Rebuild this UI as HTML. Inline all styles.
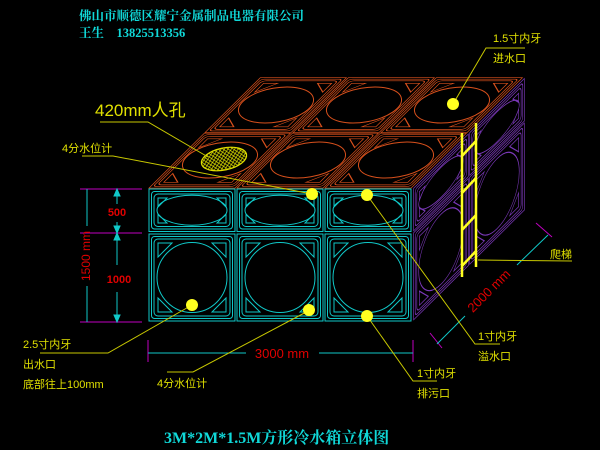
<!DOCTYPE html>
<html><head><meta charset="utf-8"><style>
html,body{margin:0;padding:0;background:#000;}
svg{display:block;}
.t{font-family:"Liberation Serif","Noto Serif CJK SC",serif;}
.s{font-family:"Liberation Sans","Noto Sans CJK SC",sans-serif;}
</style></head><body>
<svg width="600" height="450" viewBox="0 0 600 450" xmlns="http://www.w3.org/2000/svg">
<rect width="600" height="450" fill="#000"/>
<defs>
<g id="pbn" fill="none">
<rect x="1" y="1" width="86" height="87"/>
<rect x="3.5" y="3.5" width="81" height="82" rx="3"/>
<rect x="6" y="6" width="76" height="77" rx="4"/>
<polygon points="10,10 24,10 10,24"/>
<polygon points="78,10 64,10 78,24"/>
<polygon points="10,79 24,79 10,65"/>
<polygon points="78,79 64,79 78,65"/>
</g>
<g id="pb" fill="none">
<use href="#pbn"/>
<circle cx="44" cy="44.5" r="35"/>
</g>
<g id="pt" fill="none">
<rect x="1" y="1" width="86" height="42.5"/>
<rect x="3.5" y="3.5" width="81" height="37.5" rx="3"/>
<rect x="6" y="6" width="76" height="32.5" rx="4"/>
<ellipse cx="44" cy="22.2" rx="35" ry="15"/>
<polygon points="10,10 19,10 10,19"/>
<polygon points="78,10 69,10 78,19"/>
<polygon points="10,35 19,35 10,26"/>
<polygon points="78,35 69,35 78,26"/>
</g>
<pattern id="hat" width="4" height="4" patternUnits="userSpaceOnUse">
<path d="M0,0 L4,4 M4,0 L0,4" stroke="#e0e000" stroke-width="0.7"/>
</pattern>
</defs>

<!-- top face -->
<g stroke="#d8501c" stroke-width="1" fill="none">
<use href="#pbn" transform="matrix(1,0,-0.636,0.631,260,77)"/>
<use href="#pbn" transform="matrix(1,0,-0.636,0.631,348,77)"/>
<use href="#pbn" transform="matrix(1,0,-0.636,0.631,436,77)"/>
<use href="#pbn" transform="matrix(1,0,-0.636,0.631,204,132.5)"/>
<use href="#pbn" transform="matrix(1,0,-0.636,0.631,292,132.5)"/>
<use href="#pbn" transform="matrix(1,0,-0.636,0.631,380,132.5)"/>
<ellipse cx="276" cy="105" rx="38" ry="17" transform="rotate(-10 276 105)"/>
<ellipse cx="364" cy="105" rx="38" ry="17" transform="rotate(-10 364 105)"/>
<ellipse cx="452" cy="105" rx="38" ry="17" transform="rotate(-10 452 105)"/>
<ellipse cx="220" cy="160" rx="38" ry="17" transform="rotate(-10 220 160)"/>
<ellipse cx="308" cy="160" rx="38" ry="17" transform="rotate(-10 308 160)"/>
<ellipse cx="396" cy="160" rx="38" ry="17" transform="rotate(-10 396 160)"/>
</g>
<!-- right face -->
<g stroke="#7a38b8" stroke-width="1">
<use href="#pt" transform="matrix(0.636,-0.631,0,1,413,188)"/>
<use href="#pt" transform="matrix(0.636,-0.631,0,1,469,132.5)"/>
<use href="#pb" transform="matrix(0.636,-0.631,0,1,413,232.5)"/>
<use href="#pb" transform="matrix(0.636,-0.631,0,1,469,177)"/>
</g>
<!-- front face -->
<g stroke="#10c8c8" stroke-width="1">
<use href="#pt" transform="translate(148,188)"/>
<use href="#pt" transform="translate(236,188)"/>
<use href="#pt" transform="translate(324,188)"/>
<use href="#pb" transform="translate(148,233)"/>
<use href="#pb" transform="translate(236,233)"/>
<use href="#pb" transform="translate(324,233)"/>
</g>

<!-- manhole -->
<ellipse cx="224" cy="159" rx="23" ry="11" transform="rotate(-12 224 159)" fill="url(#hat)" stroke="#e0e000" stroke-width="1.2"/>

<!-- ladder -->
<g stroke="#ffff20" stroke-width="2.5" fill="none">
<line x1="462" y1="133" x2="462" y2="277"/>
<line x1="476" y1="123" x2="476" y2="267"/>
<line x1="462" y1="156" x2="476" y2="141"/>
<line x1="462" y1="193" x2="476" y2="178"/>
<line x1="462" y1="230" x2="476" y2="215"/>
<line x1="462" y1="266" x2="476" y2="251"/>
</g>

<!-- dimensions -->
<g stroke="#c000c0" stroke-width="1">
<line x1="80" y1="189" x2="142" y2="189"/>
<line x1="80" y1="233" x2="142" y2="233"/>
<line x1="80" y1="322" x2="142" y2="322"/>
<line x1="148" y1="340" x2="148" y2="362"/>
<line x1="413" y1="340" x2="413" y2="362"/>
<line x1="430" y1="333" x2="442" y2="348"/>
<line x1="536" y1="223" x2="552" y2="237"/>
</g>
<g stroke="#10c8c8" stroke-width="1" fill="#10c8c8">
<line x1="87" y1="189" x2="87" y2="226"/>
<line x1="87" y1="286" x2="87" y2="322"/>
<line x1="117" y1="189" x2="117" y2="204"/>
<line x1="117" y1="222" x2="117" y2="233"/>
<line x1="117" y1="233" x2="117" y2="265"/>
<line x1="117" y1="292" x2="117" y2="322"/>
<polygon points="114,196 120,196 117,189"/>
<polygon points="114,226 120,226 117,233"/>
<polygon points="114,240 120,240 117,233"/>
<polygon points="114,315 120,315 117,322"/>
<line x1="148" y1="353" x2="246" y2="353"/>
<line x1="319" y1="353" x2="413" y2="353"/>
<line x1="437" y1="344" x2="465" y2="316"/>
<line x1="517" y1="265" x2="548" y2="235"/>
</g>
<g fill="#e00000" class="s">
<text x="90" y="256" font-size="12" transform="rotate(-90 90 256)" text-anchor="middle">1500 mm</text>
<text x="117" y="216" font-size="11" text-anchor="middle" font-weight="bold">500</text>
<text x="119" y="283" font-size="11" text-anchor="middle" font-weight="bold">1000</text>
<text x="282" y="358" font-size="13" text-anchor="middle">3000 mm</text>
<text x="492" y="294" font-size="13" text-anchor="middle" transform="rotate(-45 492 294)">2000 mm</text>
</g>

<!-- leaders -->
<g stroke="#c8c800" stroke-width="1" fill="none">
<polyline points="100,122 148,122 208,157"/>
<polyline points="82,156 113,156 312,194"/>
<polyline points="525,48 486,48 453,104"/>
<polyline points="367,195 475,344 500,344"/>
<polyline points="367,316 413,381 437,381"/>
<polyline points="478,260 572,261"/>
<polyline points="40,353 108,353 192,305"/>
<polyline points="167,372 193,372 310,310"/>
</g>
<g fill="#ffff20">
<circle cx="453" cy="104" r="6"/>
<circle cx="312" cy="194" r="6"/>
<circle cx="367" cy="195" r="6"/>
<circle cx="192" cy="305" r="6"/>
<circle cx="309" cy="310" r="6"/>
<circle cx="367" cy="316" r="6"/>
</g>

<!-- labels -->
<g fill="#e0e000" class="s">
<text x="95" y="116" font-size="17">420mm人孔</text>
<text x="62" y="152" font-size="11">4分水位计</text>
<text x="493" y="42" font-size="11">1.5寸内牙</text>
<text x="493" y="62" font-size="11">进水口</text>
<text x="550" y="258" font-size="11">爬梯</text>
<text x="478" y="340" font-size="11">1寸内牙</text>
<text x="478" y="360" font-size="11">溢水口</text>
<text x="417" y="377" font-size="11">1寸内牙</text>
<text x="417" y="397" font-size="11">排污口</text>
<text x="23" y="348" font-size="11">2.5寸内牙</text>
<text x="23" y="368" font-size="11">出水口</text>
<text x="23" y="388" font-size="11">底部往上100mm</text>
<text x="157" y="387" font-size="11">4分水位计</text>
</g>
<g fill="#10d8d8" class="t" font-weight="bold">
<text x="79" y="20" font-size="12.5">佛山市顺德区耀宁金属制品电器有限公司</text>
<text x="79" y="37" font-size="12.5">王生　13825513356</text>
<text x="164" y="443" font-size="16">3M*2M*1.5M方形冷水箱立体图</text>
</g>
</svg>
</body></html>
